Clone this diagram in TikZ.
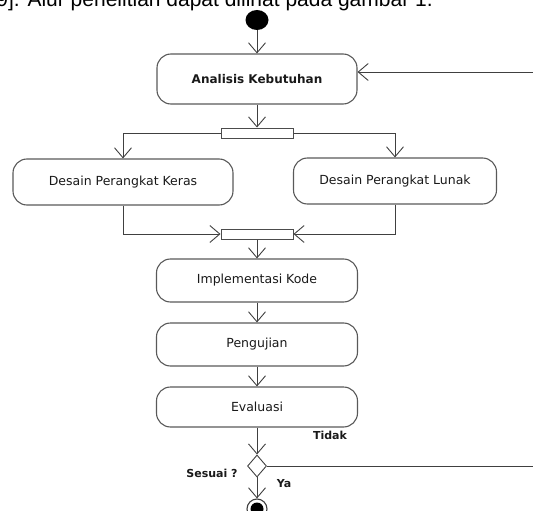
\documentclass[tikz,border=0pt]{standalone}
\usepackage{fontspec}
\setmainfont{DejaVu Sans}
\newfontfamily\captionfont{Liberation Sans}
\usetikzlibrary{arrows.meta,shapes.geometric,positioning}

\begin{document}
\begin{tikzpicture}[x=1pt, y=-1pt, line width=0.9pt,
    act/.style={draw=black!65, line width=1.1pt, rounded corners=14pt, minimum width=201pt, minimum height=43pt, text=black!90, font=\fontsize{12.5}{14}\selectfont},
    bar/.style={draw=black!70, line width=1pt, minimum width=72pt, minimum height=10pt, inner sep=0pt},
    flow/.style={draw=black!75, -{Straight Barb[length=10pt,width=17pt]}},
    lbl/.style={font=\bfseries\fontsize{11}{13}\selectfont, text=black!90}]
	\useasboundingbox (0,0) rectangle (533,511);
	\clip (0,0) rectangle (533,511);
	\node[anchor=base west, inner sep=0pt, font=\captionfont\fontsize{21}{24}\selectfont] (judul) at (-4,7) {9]. Alur penelitian dapat dilihat pada gambar 1.};
	% aktivitas
	\node[ellipse, fill=black, minimum width=23pt, minimum height=20pt, inner sep=0pt] (mulai) at (257,20) {};
	\node[act, minimum width=200pt, minimum height=50pt, font=\bfseries\fontsize{12}{14}\selectfont] (ana) at (257,79) {Analisis Kebutuhan};
	\node[bar] (fork) at (257,133) {};
	\node[act, minimum width=220pt, minimum height=46pt] (keras) at (123,182) {Desain Perangkat Keras};
	\node[act, minimum width=203pt, minimum height=46pt] (lunak) at (395,181) {Desain Perangkat Lunak};
	\node[bar] (join) at (257,234) {};
	\node[act] (impl) at (257,280.5) {Implementasi Kode};
	\node[act] (uji) at (257,344.5) {Pengujian};
	\node[act, minimum height=40pt] (eval) at (257,407) {Evaluasi};
	\node[diamond, draw=black!75, minimum width=19pt, minimum height=22pt, inner sep=0pt] (cek) at (257,466) {};
	\node[circle, draw=black!75, line width=1.1pt, minimum size=20pt, inner sep=0pt] (akhir) at (257,509) {};
	\node[circle, fill=black, minimum size=13pt, inner sep=0pt] (akhirisi) at (akhir) {};
	% label
	\node[lbl] (tidak) at (330,435) {Tidak};
	\node[lbl] (sesuai) at (212,473) {Sesuai ?};
	\node[lbl] (ya) at (284,484) {Ya};
	% alur
	\draw[flow] (mulai) -- (ana);
	\draw[flow] (ana) -- (fork);
	\draw[flow] (fork.west) -| (keras.north);
	\draw[flow] (fork.east) -| (lunak.north);
	\draw[flow] (keras.south) |- (join.west);
	\draw[flow] (lunak.south) |- (join.east);
	\draw[flow] (join) -- (impl);
	\draw[flow] (impl) -- (uji);
	\draw[flow] (uji) -- (eval);
	\draw[flow] (eval) -- (cek);
	\draw[flow] (cek) -- (akhir);
	\coordinate (kanan1) at (560,466);
	\coordinate (kanan2) at (560,72);
	\draw[flow] (cek.east) -- (kanan1) -- (kanan2) -- (kanan2 -| ana.east);
\end{tikzpicture}
\end{document}
